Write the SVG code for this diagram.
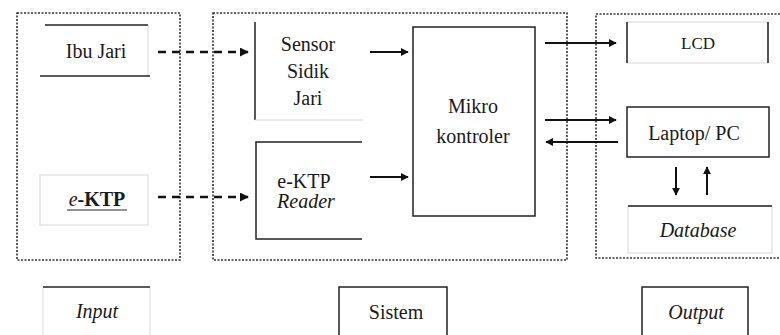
<svg xmlns="http://www.w3.org/2000/svg" width="780" height="335" viewBox="0 0 780 335">
  <defs>
    <marker id="head" viewBox="0 0 10 10" refX="9" refY="5" markerWidth="8" markerHeight="8" markerUnits="userSpaceOnUse" orient="auto">
      <path d="M0,0 L10,5 L0,10 z" fill="#111"/>
    </marker>
    <marker id="headDash" viewBox="0 0 10 10" refX="9" refY="5" markerWidth="9" markerHeight="9" markerUnits="userSpaceOnUse" orient="auto">
      <path d="M0,0 L10,5 L0,10 z" fill="#111"/>
    </marker>
  </defs>
  <style>
    text { fill: #1a1a1a; text-anchor: middle; }
    .t { font-size: 20px; }
    .it { font-style: italic; }
    .group { fill: none; stroke: #333; stroke-width: 1.6; stroke-dasharray: 2 1.5; }
    .edge { fill: none; stroke: #222; stroke-width: 1.5; }
    .faint { fill: none; stroke: #d8d8d8; stroke-width: 1; }
    .arrow { fill: none; stroke: #111; stroke-width: 2; marker-end: url(#head); }
    .dash { fill: none; stroke: #111; stroke-width: 2.5; stroke-dasharray: 8 6; marker-end: url(#headDash); }
  </style>
  <rect width="780" height="335" fill="#fff"/>

  <g font-family="'Liberation Serif', 'Times New Roman', serif">
  <!-- dotted section frames -->
  <g id="frames">
    <rect class="group" x="17" y="13" width="163" height="247"/>
    <rect class="group" x="213" y="13" width="354" height="247"/>
    <rect class="group" x="596" y="14" width="190" height="244"/>
  </g>

  <g id="ibu-jari">
    <line class="faint" x1="148" y1="25" x2="148" y2="76"/>
    <line class="edge" x1="45" y1="25" x2="148" y2="25" stroke="#777"/>
    <line class="edge" x1="40" y1="76" x2="150" y2="76" stroke="#555"/>
    <text class="t" x="96" y="58">Ibu Jari</text>
  </g>

  <g id="e-ktp">
    <rect class="faint" x="40" y="175" width="108" height="50" stroke="#eee"/>
    <text class="t" x="97" y="206" font-weight="bold"><tspan class="it" font-weight="normal">e</tspan>-KTP</text>
    <line x1="67" y1="210" x2="127" y2="210" stroke="#222" stroke-width="1"/>
  </g>

  <g id="sensor">
    <line class="edge" x1="255" y1="22" x2="255" y2="120"/>
    <line class="faint" x1="255" y1="120" x2="363" y2="120"/>
    <text class="t" x="308" y="51">Sensor</text>
    <text class="t" x="308" y="78">Sidik</text>
    <text class="t" x="308" y="105">Jari</text>
  </g>

  <g id="ektp-reader">
    <path class="edge" d="M362,142 H256 V239 H362"/>
    <text class="t" x="304" y="188">e-KTP</text>
    <text class="t it" x="306" y="208">Reader</text>
  </g>

  <g id="mikrokontroler">
    <rect class="edge" x="413" y="27" width="122" height="189"/>
    <text class="t" x="473" y="113">Mikro</text>
    <text class="t" x="473" y="143">kontroler</text>
  </g>

  <g id="lcd">
    <rect class="faint" x="627" y="22" width="141" height="41"/>
    <line class="edge" x1="627" y1="22" x2="627" y2="63" stroke="#555"/>
    <line class="edge" x1="768" y1="22" x2="768" y2="63"/>
    <text x="698" y="49" font-size="17">LCD</text>
  </g>

  <g id="laptop">
    <rect class="edge" x="627" y="107" width="142" height="50"/>
    <text class="t" x="694" y="140">Laptop/ PC</text>
  </g>

  <g id="database">
    <rect class="faint" x="628" y="206" width="144" height="47"/>
    <line class="edge" x1="628" y1="206" x2="772" y2="206"/>
    <text class="t it" x="698" y="237">Database</text>
  </g>

  <g id="label-input">
    <path class="faint" d="M43,287 V335 M150,287 V335"/>
    <line class="edge" x1="43" y1="287" x2="150" y2="287" stroke-width="2"/>
    <text class="t it" x="97" y="318">Input</text>
  </g>

  <g id="label-sistem">
    <path class="edge" d="M339,335 V287 H447 V335"/>
    <text class="t" x="396" y="319">Sistem</text>
  </g>

  <g id="label-output">
    <path class="edge" d="M642,335 V287 H748 V335"/>
    <text class="t it" x="696" y="319">Output</text>
  </g>

  <!-- connectors -->
  <g id="connectors">
    <line class="dash" x1="158" y1="52" x2="248" y2="52"/>
    <line class="dash" x1="158" y1="197" x2="248" y2="197"/>
    <line class="arrow" x1="370" y1="52" x2="408" y2="52"/>
    <line class="arrow" x1="370" y1="177" x2="408" y2="177"/>
    <line class="arrow" x1="545" y1="43" x2="616" y2="43"/>
    <line class="arrow" x1="545" y1="120" x2="616" y2="120"/>
    <line class="arrow" x1="618" y1="142" x2="546" y2="142"/>
    <line class="arrow" x1="676" y1="167" x2="676" y2="195"/>
    <line class="arrow" x1="707" y1="195" x2="707" y2="167"/>
  </g>
  </g>
</svg>
